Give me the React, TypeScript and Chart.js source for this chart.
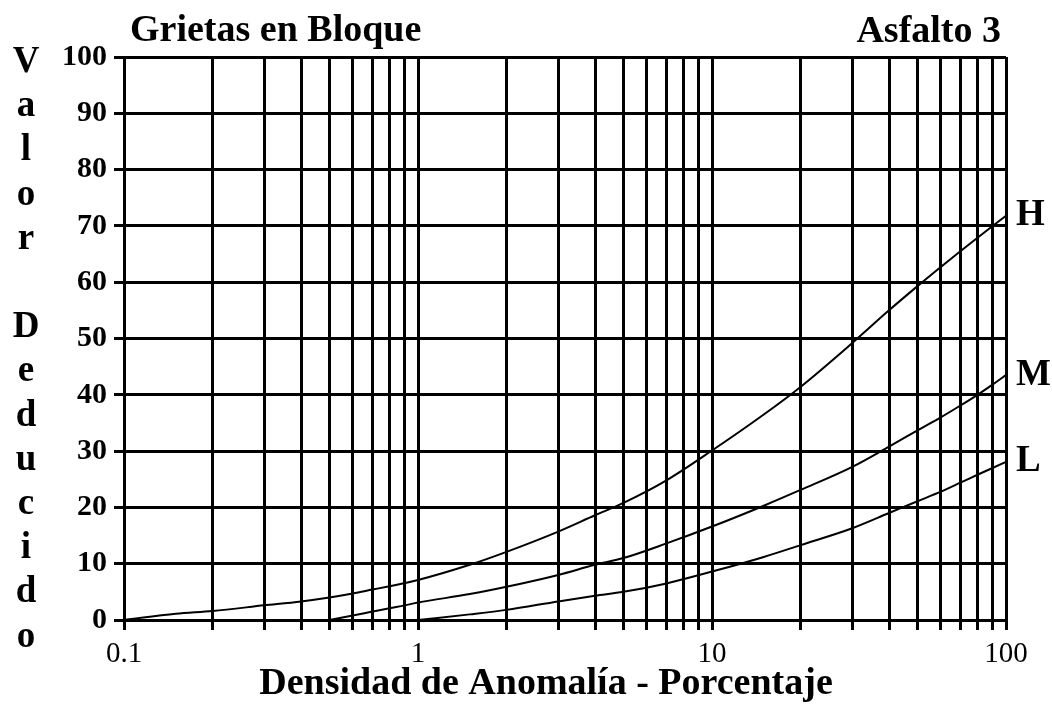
import React, { useEffect, useRef } from "react";
import { Chart, registerables } from "chart.js";

Chart.register(...registerables);

// ---- data ----
const hDensity = [0.1, 0.15, 0.2, 0.3, 0.4, 0.5, 0.6, 0.7, 0.8, 1, 1.5, 2, 3, 4, 5, 7, 10, 15, 20, 30, 40, 50, 60, 70, 80, 100];
const hValue = [0, 1.1, 1.6, 2.6, 3.3, 4.0, 4.7, 5.4, 6.0, 7.1, 9.8, 12.1, 15.7, 18.6, 20.8, 24.8, 30.1, 36.5, 41.4, 49.2, 55.0, 59.3, 62.7, 65.5, 67.9, 71.8];

const mDensity = [0.5, 0.6, 0.7, 0.8, 0.9, 1, 1.5, 2, 3, 4, 5, 7, 10, 15, 20, 30, 40, 50, 60, 70, 80, 90, 100];
const mValue = [0, 0.8, 1.5, 2.1, 2.6, 3.1, 4.6, 5.9, 8.0, 9.8, 11.0, 13.6, 16.6, 20.3, 23.1, 27.2, 30.8, 33.7, 36.0, 38.1, 40.0, 41.8, 43.5];

const lDensity = [1, 1.5, 2, 3, 4, 5, 7, 10, 15, 20, 30, 40, 50, 60, 70, 80, 90, 100];
const lValue = [0, 1.0, 1.8, 3.3, 4.3, 5.0, 6.5, 8.6, 11.2, 13.3, 16.3, 19.0, 21.1, 22.8, 24.4, 25.8, 27.0, 28.1];

const seriesNames = ["H", "M", "L"];

const xGridValues = [
  0.1, 0.2, 0.3, 0.4, 0.5, 0.6, 0.7, 0.8, 0.9,
  1, 2, 3, 4, 5, 6, 7, 8, 9,
  10, 20, 30, 40, 50, 60, 70, 80, 90, 100,
];
const xTickLabels = [0.1, 1, 10, 100];

const chartTitle = "Grietas en Bloque";
const chartSubtitle = "Asfalto 3";
const xAxisTitle = "Densidad de Anomalía - Porcentaje";
const yAxisTitle = "Valor Deducido";

const SERIF = '"Liberation Serif", "Times New Roman", serif';

const textPlugin = {
  id: "textPlugin",
  afterDraw(chart: any) {
    const ctx = chart.ctx as CanvasRenderingContext2D;
    const x = chart.scales.x;
    const y = chart.scales.y;
    ctx.save();
    ctx.fillStyle = "#000";
    ctx.font = `bold 38px ${SERIF}`;
    ctx.textBaseline = "alphabetic";

    // titles
    ctx.textAlign = "left";
    ctx.fillText(chartTitle, 130, 41);
    ctx.textAlign = "right";
    ctx.fillText(chartSubtitle, 1001, 42);

    // x axis title
    ctx.textAlign = "center";
    ctx.fillText(xAxisTitle, 546, 694);

    // vertical y-axis title (stacked letters)
    ctx.font = `bold 37px ${SERIF}`;
    const chars = Array.from(yAxisTitle);
    chars.forEach((c, i) => {
      if (c.trim() === "") return;
      ctx.fillText(c, 26, 72 + i * 44.2);
    });

    // series end labels
    ctx.textAlign = "left";
    ctx.textBaseline = "middle";
    chart.data.datasets.forEach((ds: any, i: number) => {
      const last = ds.data[ds.data.length - 1];
      const py = y.getPixelForValue(last.y);
      ctx.fillText(seriesNames[i], x.right + 10, py);
    });
    ctx.restore();
  },
};

export default function App() {
  const canvasRef = useRef<HTMLCanvasElement | null>(null);

  useEffect(() => {
    if (!canvasRef.current) return;
    const mk = (xs: number[], ys: number[]) => xs.map((v, i) => ({ x: v, y: ys[i] }));
    const lineStyle = {
      borderColor: "#000",
      backgroundColor: "#000",
      borderWidth: 2,
      pointRadius: 0,
      fill: false,
      cubicInterpolationMode: "monotone" as const,
    };
    const gridStyle = {
      color: "#000",
      lineWidth: 3,
      drawTicks: true,
      tickLength: 10,
      tickColor: "#000",
      tickWidth: 3,
    };
    const chart = new Chart(canvasRef.current, {
      type: "line",
      data: {
        datasets: [
          { label: seriesNames[0], data: mk(hDensity, hValue), ...lineStyle },
          { label: seriesNames[1], data: mk(mDensity, mValue), ...lineStyle },
          { label: seriesNames[2], data: mk(lDensity, lValue), ...lineStyle },
        ],
      },
      options: {
        responsive: false,
        animation: false,
        layout: { padding: { top: 57, right: 46, left: 0, bottom: 0 } },
        plugins: {
          legend: { display: false },
          title: { display: false },
          tooltip: { enabled: false },
        },
        scales: {
          x: {
            type: "logarithmic",
            min: 0.1,
            max: 100,
            afterBuildTicks: (axis: any) => {
              axis.ticks = xGridValues.map((v) => ({ value: v, major: false }));
            },
            afterFit: (scale: any) => {
              scale.height = 88;
            },
            grid: gridStyle,
            border: { display: true, color: "#000", width: 3 },
            ticks: {
              autoSkip: false,
              maxRotation: 0,
              minRotation: 0,
              padding: 7,
              color: "#000",
              font: { family: SERIF, size: 29, weight: "normal" },
              callback: (v: any) => (xTickLabels.includes(Number(v)) ? String(v) : ""),
            },
          },
          y: {
            type: "linear",
            min: 0,
            max: 100,
            afterFit: (scale: any) => {
              scale.width = 124;
            },
            grid: gridStyle,
            border: { display: true, color: "#000", width: 3 },
            ticks: {
              stepSize: 10,
              padding: 7,
              color: "#000",
              font: { family: SERIF, size: 30, weight: "bold" },
            },
          },
        },
      },
      plugins: [textPlugin],
    });
    return () => chart.destroy();
  }, []);

  return (
    <div style={{ position: "absolute", left: 0, top: 0, width: 1052, height: 708, background: "#fff" }}>
      <canvas ref={canvasRef} width={1052} height={708} style={{ display: "block" }} />
    </div>
  );
}
